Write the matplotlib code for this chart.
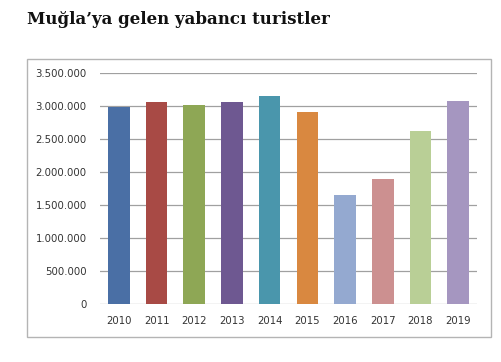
import matplotlib
matplotlib.use("Agg")
import matplotlib.pyplot as plt
from matplotlib.patches import Rectangle
from matplotlib.ticker import FuncFormatter, MultipleLocator

years = ["2010", "2011", "2012", "2013", "2014", "2015", "2016", "2017", "2018", "2019"]
visitors = [2995000, 3065000, 3015000, 3065000, 3150000, 2910000, 1650000, 1900000, 2620000, 3075000]
bar_colors = ["#4a6fa5", "#a84a45", "#8ea755", "#6e5891", "#4a96ac",
              "#d98840", "#94a9d0", "#cc9090", "#b9cf96", "#a596c0"]

fig = plt.figure(figsize=(5.01, 3.62), dpi=100)
W, H = 501, 362

# title
fig.text(27 / W, 1 - 20 / H, "Muğla’ya gelen yabancı turistler",
         family="DejaVu Serif", fontweight="bold", fontsize=12,
         color="#111111", ha="left", va="center")

# chart frame
fig.patches.append(Rectangle((27.3 / W, 1 - 336.7 / H), (490.7 - 27.3) / W, (336.7 - 59.3) / H,
                             transform=fig.transFigure, fill=False,
                             edgecolor="#b4b4b4", linewidth=1.0))

ax = fig.add_axes([100 / W, 1 - 304 / H, 377 / W, (304 - 73.3) / H])
ax.bar(years, visitors, width=0.575, color=bar_colors, zorder=2)
ax.set_ylim(0, 3500000)
ax.set_xlim(-0.5, 9.5)
ax.yaxis.set_major_locator(MultipleLocator(500000))
ax.yaxis.set_major_formatter(FuncFormatter(lambda v, p: f"{int(v):,}".replace(",", ".")))
ax.grid(axis="y", color="#a0a0a0", linewidth=0.9, zorder=0)
for s in ax.spines.values():
    s.set_visible(False)
ax.tick_params(length=0, labelsize=7.3, labelcolor="#333333")
ax.tick_params(axis="y", pad=9.5)
ax.tick_params(axis="x", pad=9)

plt.savefig("out.png", dpi=100)
